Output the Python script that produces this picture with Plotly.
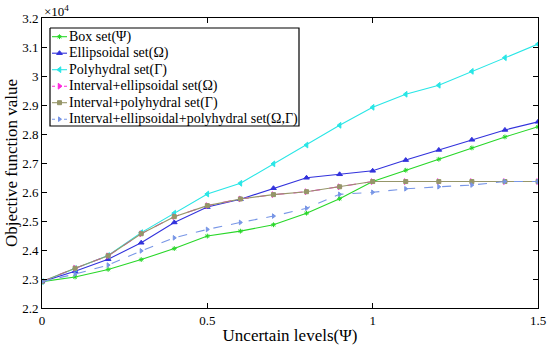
import plotly.graph_objects as go

x_levels = [0, 0.1, 0.2, 0.3, 0.4, 0.5, 0.6, 0.7, 0.8, 0.9, 1.0, 1.1, 1.2, 1.3, 1.4, 1.5]

box_set = [22910, 23070, 23330, 23670, 24050, 24480, 24650, 24870, 25270, 25770, 26360, 26750, 27130, 27520, 27900, 28250]
ellipsoidal_set = [22910, 23265, 23680, 24250, 24950, 25480, 25750, 26130, 26490, 26610, 26730, 27100, 27450, 27800, 28140, 28420]
polyhydral_set = [22910, 23360, 23810, 24600, 25270, 25930, 26300, 26970, 27620, 28300, 28920, 29370, 29680, 30160, 30630, 31100]
interval_ellipsoidal = [22910, 23370, 23800, 24560, 25150, 25530, 25760, 25910, 26010, 26180, 26360, 26360, 26360, 26360, 26360, 26360]
interval_polyhydral = [22910, 23370, 23800, 24560, 25150, 25530, 25760, 25910, 26010, 26180, 26360, 26360, 26360, 26360, 26360, 26360]
interval_ell_poly = [22910, 23170, 23480, 23970, 24420, 24710, 24950, 25170, 25440, 25920, 25990, 26110, 26180, 26240, 26360, 26360]

series_names = [
    "Box set(Ψ)",
    "Ellipsoidal set(Ω)",
    "Polyhydral set(Γ)",
    "Interval+ellipsoidal set(Ω)",
    "Interval+polyhydral set(Γ)",
    "Interval+ellipsoidal+polyhydral set(Ω,Γ)",
]

y_tick_vals = [22000, 23000, 24000, 25000, 26000, 27000, 28000, 29000, 30000, 31000, 32000]
y_tick_text = ["2.2", "2.3", "2.4", "2.5", "2.6", "2.7", "2.8", "2.9", "3", "3.1", "3.2"]
x_tick_vals = [0, 0.5, 1, 1.5]
x_tick_text = ["0", "0.5", "1", "1.5"]

FONT = "Liberation Serif, Times New Roman, serif"

styles = [
    dict(color="rgb(40,215,40)", dash="solid", symbol="asterisk-open", msize=4),
    dict(color="rgb(50,50,220)", dash="solid", symbol="triangle-up", msize=5),
    dict(color="rgb(40,230,230)", dash="solid", symbol="triangle-left", msize=5),
    dict(color="rgb(255,40,220)", dash="dash", symbol="triangle-right", msize=5),
    dict(color="rgb(150,150,105)", dash="solid", symbol="square", msize=4),
    dict(color="rgb(120,150,230)", dash="dash", symbol="triangle-right", msize=4),
]

data = [box_set, ellipsoidal_set, polyhydral_set, interval_ellipsoidal, interval_polyhydral, interval_ell_poly]

fig = go.Figure()
for name, ys, st in zip(series_names, data, styles):
    fig.add_trace(go.Scatter(
        x=x_levels, y=ys, name=name, mode="lines+markers", showlegend=False,
        line=dict(color=st["color"], width=1.1, dash=st["dash"]),
        marker=dict(symbol=st["symbol"], size=st["msize"], color=st["color"],
                    line=dict(color=st["color"], width=1)),
    ))

# ---- custom legend drawn on an overlay pixel-coordinate axis pair ----
LEG_LEFT, LEG_RIGHT, LEG_TOP, LEG_BOTTOM = 50, 299, 28, 126
ROW0, ROW_STEP = 36.7, 16.5
SAMPLE_X0, SAMPLE_X1, TEXT_X = 52, 67, 68

fig.add_trace(go.Scatter(
    x=[LEG_LEFT, LEG_RIGHT, LEG_RIGHT, LEG_LEFT, LEG_LEFT],
    y=[LEG_TOP, LEG_TOP, LEG_BOTTOM, LEG_BOTTOM, LEG_TOP],
    xaxis="x2", yaxis="y2", mode="lines", fill="toself", fillcolor="white",
    line=dict(color="black", width=1.2), showlegend=False, hoverinfo="skip",
))
for i, (name, st) in enumerate(zip(series_names, styles)):
    ry = ROW0 + i * ROW_STEP
    fig.add_trace(go.Scatter(
        x=[SAMPLE_X0, SAMPLE_X1], y=[ry, ry], xaxis="x2", yaxis="y2",
        mode="lines", line=dict(color=st["color"], width=1.1, dash="dot" if st["dash"] == "dash" else "solid"),
        showlegend=False, hoverinfo="skip",
    ))
    fig.add_trace(go.Scatter(
        x=[(SAMPLE_X0 + SAMPLE_X1) / 2], y=[ry], xaxis="x2", yaxis="y2",
        mode="markers", marker=dict(symbol=st["symbol"], size=st["msize"], color=st["color"],
                                    line=dict(color=st["color"], width=1)),
        showlegend=False, hoverinfo="skip",
    ))
    fig.add_annotation(
        x=TEXT_X, y=ry, xref="x2", yref="y2", xanchor="left", yanchor="middle",
        text=name, showarrow=False, font=dict(family=FONT, size=14, color="black"),
        xshift=-1,
    )

fig.update_layout(
    width=550, height=352,
    margin=dict(l=42, r=12, t=18, b=44),
    paper_bgcolor="white", plot_bgcolor="white",
    font=dict(family=FONT, size=13, color="black"),
    showlegend=False,
    xaxis=dict(
        range=[0, 1.5], tickvals=x_tick_vals, ticktext=x_tick_text,
        ticks="inside", ticklen=5, tickcolor="black",
        showline=True, linecolor="black", linewidth=1, mirror="ticks",
        showgrid=False, zeroline=False, automargin=False,
        tickfont=dict(family=FONT, size=13),
        title=dict(text="Uncertain levels(Ψ)", font=dict(family=FONT, size=17), standoff=2),
    ),
    yaxis=dict(
        range=[22000, 32000], tickvals=y_tick_vals, ticktext=y_tick_text,
        ticks="inside", ticklen=5, tickcolor="black",
        showline=True, linecolor="black", linewidth=1, mirror="ticks",
        showgrid=False, zeroline=False, automargin=False,
        tickfont=dict(family=FONT, size=13),
        title=dict(text="Objective function value", font=dict(family=FONT, size=17), standoff=0),
    ),
    xaxis2=dict(overlaying="x", anchor="y2", range=[42, 538], visible=False, fixedrange=True),
    yaxis2=dict(overlaying="y", anchor="x2", range=[308, 18], visible=False, fixedrange=True),
)
fig.add_annotation(
    x=0, y=1, xref="paper", yref="paper", xanchor="left", yanchor="bottom",
    text="×10<sup>4</sup>", showarrow=False, font=dict(family=FONT, size=13), yshift=-3,
)

fig.write_html("out.html", config={"displayModeBar": False},
               post_script="document.body.style.margin='0';")
